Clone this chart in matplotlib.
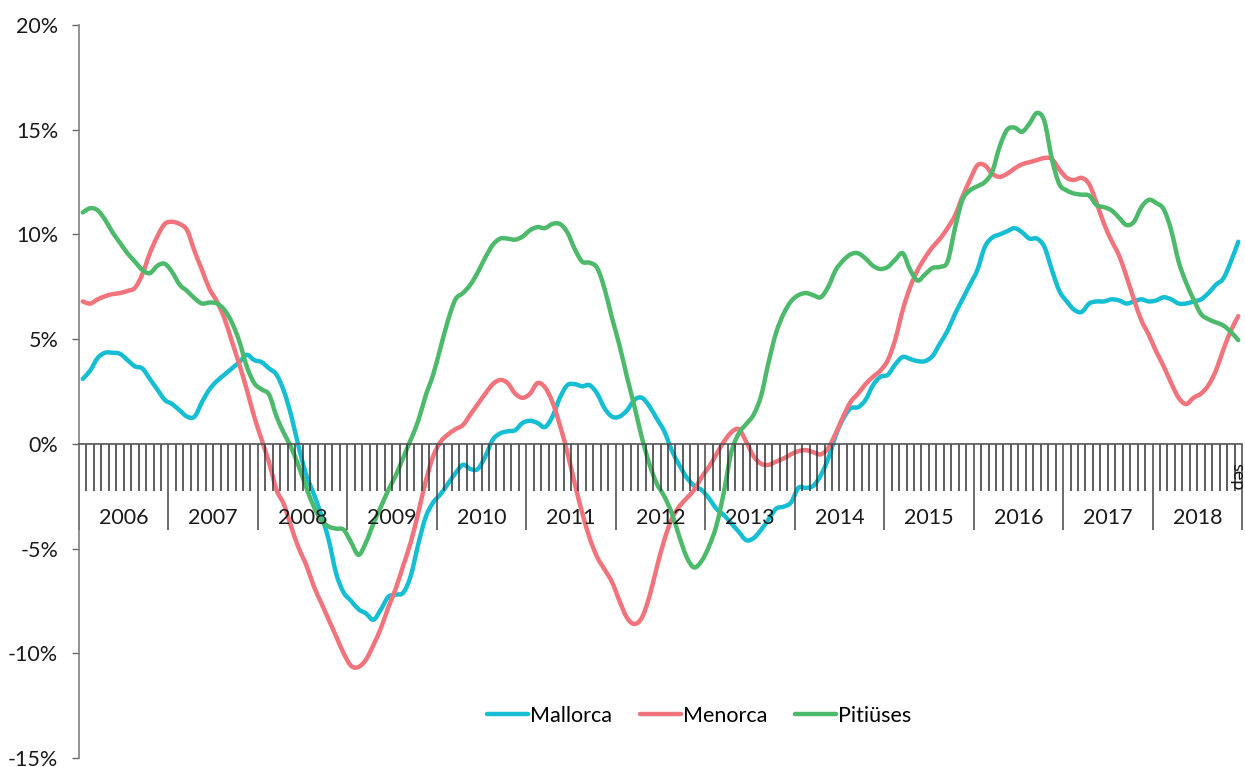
import matplotlib
matplotlib.use('Agg')
import matplotlib.pyplot as plt
from matplotlib.path import Path
from matplotlib.patches import PathPatch
import numpy as np

plt.rcParams['font.family'] = ['Lato', 'DejaVu Sans']

years = ['2006', '2007', '2008', '2009', '2010', '2011', '2012',
         '2013', '2014', '2015', '2016', '2017', '2018']

# monthly values (%), Jan 2006 .. end of 2018
mallorca = [
    3.1, 3.5, 4.1, 4.35, 4.35, 4.3, 4.0, 3.7, 3.6, 3.1, 2.6, 2.1,
    1.9, 1.6, 1.3, 1.3, 2.0, 2.6, 3.0, 3.3, 3.6, 3.9, 4.25, 4.0,
    3.9, 3.6, 3.3, 2.5, 1.3, -0.2, -1.5, -2.4, -3.4, -4.6, -6.2, -7.1,
    -7.5, -7.9, -8.1, -8.4, -7.9, -7.3, -7.2, -7.1, -6.3, -4.8, -3.5, -2.8,
    -2.4, -1.9, -1.4, -1.0, -1.2, -1.2, -0.6, 0.2, 0.5, 0.6, 0.65, 1.0,
    1.1, 1.0, 0.8, 1.3, 2.2, 2.8, 2.85, 2.75, 2.8, 2.4, 1.7, 1.3,
    1.3, 1.6, 2.1, 2.2, 1.8, 1.2, 0.6, -0.3, -1.0, -1.6, -2.0, -2.2,
    -2.6, -3.1, -3.4, -3.8, -4.2, -4.6, -4.5, -4.1, -3.6, -3.1, -3.0, -2.8,
    -2.1, -2.1, -2.0, -1.5, -0.7, 0.4, 1.2, 1.7, 1.75, 2.1, 2.8, 3.2,
    3.3, 3.8, 4.15, 4.05, 3.95, 3.95, 4.2, 4.8, 5.4, 6.2, 6.9, 7.6,
    8.3, 9.4, 9.85, 10.0, 10.15, 10.3, 10.1, 9.8, 9.8, 9.4, 8.3, 7.3,
    6.8, 6.4, 6.3, 6.7, 6.8, 6.8, 6.9, 6.85, 6.7, 6.8, 6.9, 6.8,
    6.85, 7.0, 6.9, 6.7, 6.7, 6.8, 6.9, 7.2, 7.6, 7.9, 8.7, 9.65,
]
menorca = [
    6.8, 6.7, 6.9, 7.05, 7.15, 7.2, 7.3, 7.45, 8.1, 9.1, 9.9, 10.5,
    10.6, 10.5, 10.2, 9.2, 8.3, 7.4, 6.8, 6.0, 4.9, 3.8, 2.6, 1.3,
    0.2, -0.9, -2.2, -2.9, -4.0, -5.0, -5.8, -6.8, -7.6, -8.4, -9.2, -10.0,
    -10.6, -10.65, -10.3, -9.6, -8.8, -7.8, -6.9, -5.8, -4.7, -3.3, -1.8, -0.6,
    0.1, 0.45, 0.7, 0.9, 1.4, 1.9, 2.4, 2.85, 3.05, 2.9, 2.4, 2.2,
    2.4, 2.9, 2.7, 2.0, 0.9, -0.4, -1.9, -3.3, -4.5, -5.4, -6.0, -6.6,
    -7.5, -8.3, -8.6, -8.3, -7.3, -5.9, -4.6, -3.6, -3.0, -2.6, -2.2, -1.6,
    -1.1, -0.5, 0.1, 0.55, 0.7, 0.1, -0.6, -0.95, -1.0, -0.85, -0.7, -0.5,
    -0.35, -0.3, -0.4, -0.5, -0.2, 0.5, 1.3, 2.0, 2.4, 2.85, 3.2, 3.5,
    4.0, 5.0, 6.4, 7.5, 8.3, 8.9, 9.4, 9.8, 10.3, 10.9, 11.8, 12.6,
    13.3, 13.3, 12.9, 12.75, 12.9, 13.15, 13.35, 13.45, 13.55, 13.65, 13.6, 13.1,
    12.7, 12.6, 12.7, 12.4, 11.5, 10.5, 9.7, 9.0, 8.0, 6.9, 5.9, 5.2,
    4.4, 3.7, 2.9, 2.2, 1.9, 2.2, 2.4, 2.8, 3.5, 4.5, 5.4, 6.1,
]
pitiuses = [
    11.05, 11.25, 11.15, 10.7, 10.1, 9.6, 9.1, 8.7, 8.3, 8.15, 8.5, 8.6,
    8.2, 7.6, 7.3, 6.95, 6.7, 6.75, 6.7, 6.4, 5.8, 4.9, 3.7, 2.9,
    2.6, 2.35, 1.3, 0.5, -0.2, -1.1, -2.1, -3.0, -3.65, -3.95, -4.05, -4.1,
    -4.7, -5.3, -4.7, -3.8, -3.0, -2.2, -1.5, -0.65, 0.2, 1.1, 2.3, 3.3,
    4.6, 5.9, 6.9, 7.2, 7.6, 8.2, 8.9, 9.5, 9.8, 9.8, 9.75, 9.9,
    10.2, 10.35, 10.3, 10.5, 10.5, 10.1, 9.3, 8.7, 8.65, 8.4, 7.4, 6.0,
    4.7, 3.2, 1.8, 0.3, -0.95, -1.9, -2.5, -3.3, -4.4, -5.4, -5.9, -5.6,
    -4.9, -3.9, -2.3, -0.4, 0.5, 0.95, 1.4, 2.3, 3.9, 5.3, 6.2, 6.8,
    7.1, 7.2, 7.1, 7.0, 7.5, 8.3, 8.75, 9.05, 9.1, 8.85, 8.5, 8.35,
    8.45, 8.8, 9.1, 8.3, 7.8, 8.1, 8.4, 8.45, 8.7, 10.3, 11.65, 12.1,
    12.3, 12.5, 13.0, 14.2, 15.0, 15.1, 14.9, 15.3, 15.8, 15.4, 13.6, 12.4,
    12.1, 11.95, 11.9, 11.85, 11.4, 11.3, 11.15, 10.8, 10.45, 10.6, 11.3, 11.65,
    11.5, 11.2, 10.2, 8.7, 7.7, 6.9, 6.2, 5.95, 5.8, 5.65, 5.35, 4.95,
]
series = [('Mallorca', mallorca, '#16BED3'),
          ('Menorca', menorca, '#F1737B'),
          ('Pitiüses', pitiuses, '#4DB96B')]

n = len(mallorca)
x = np.arange(n) + 0.5


def smooth_path(xs, ys):
    # Excel-like smoothed line: Bezier segments through the data points
    p = np.column_stack([xs, ys])
    ext = np.vstack([p[0], p, p[-1]])
    verts = [p[0]]
    codes = [Path.MOVETO]
    for i in range(len(p) - 1):
        c1 = ext[i + 1] + (ext[i + 2] - ext[i]) / 6
        c2 = ext[i + 2] - (ext[i + 3] - ext[i + 1]) / 6
        verts += [c1, c2, ext[i + 2]]
        codes += [Path.CURVE4] * 3
    return Path(verts, codes)


fig = plt.figure(figsize=(12.45, 7.67), dpi=100)
ax = fig.add_axes([79 / 1245, 1 - 758 / 767, (1242 - 79) / 1245, (758 - 25) / 767])

handles = []
for name, vals, col in series:
    ax.add_patch(PathPatch(smooth_path(x, vals), fill=False, edgecolor=col, lw=3.2,
                           capstyle='round', joinstyle='round'))
    h, = ax.plot([], [], color=col, lw=3.2, label=name, solid_capstyle='round')
    handles.append(h)

ax.set_xlim(0, 12 * len(years))
ax.set_ylim(-15, 20)

txt = '#1a1a1a'
fs = 15.5

# y axis
ax.set_yticks(range(-15, 21, 5))
ax.set_yticklabels([f'{v}%' for v in range(-15, 21, 5)], fontsize=fs, color=txt)
ax.tick_params(axis='y', direction='out', length=5, width=1, color='#666666', pad=10)
ax.spines['left'].set_color('#808080')
ax.spines['left'].set_linewidth(1.2)
ax.spines['top'].set_visible(False)
ax.spines['right'].set_visible(False)

# x axis at 0 with month / year ticks
ax.spines['bottom'].set_position(('data', 0))
ax.spines['bottom'].set_color('#555555')
ax.spines['bottom'].set_linewidth(1.2)
ax.set_xticks(np.arange(0, 12 * len(years) + 1, 12))
ax.set_xticks(np.arange(0, 12 * len(years) + 1, 1), minor=True)
ax.set_xticklabels([])
ax.tick_params(axis='x', which='major', direction='out', length=62, width=1.1, color='#444444')
ax.tick_params(axis='x', which='minor', direction='out', length=34, width=1.1, color='#333333')

for i, yr in enumerate(years):
    ax.text(12 * i + 6, -3.55, yr, ha='center', va='center', fontsize=fs, color=txt)
ax.text(n - 0.6, -1.55, 'sep', rotation=-90, ha='center', va='center', fontsize=13,
        color=txt)

fig.legend(handles=handles, loc='center', bbox_to_anchor=(699 / 1245, 1 - 716 / 767),
           ncol=3, frameon=False, prop={'size': fs},
           handlelength=1.9, handletextpad=0.1, columnspacing=1.3)

fig.savefig('out.png', dpi=100)
